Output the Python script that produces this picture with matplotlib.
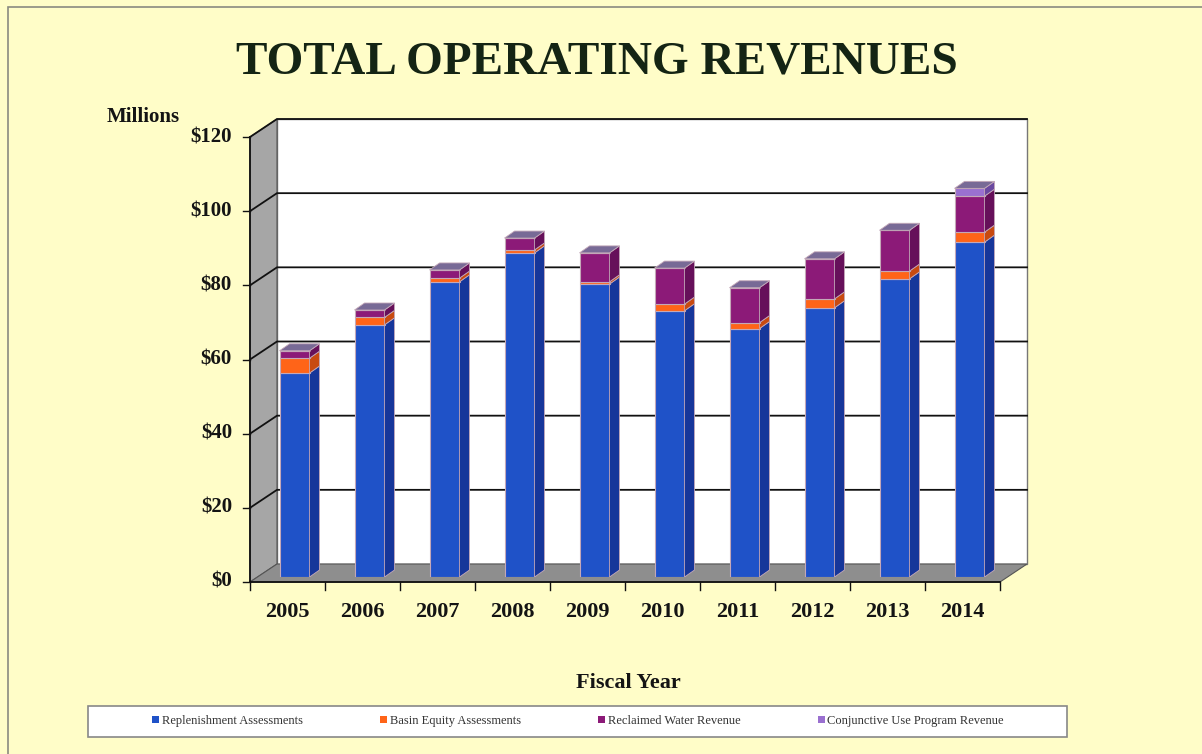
import numpy as np
import matplotlib.pyplot as plt
from matplotlib.patches import Polygon, Rectangle, Patch

# values, $ millions
years = ['2005', '2006', '2007', '2008', '2009', '2010', '2011', '2012', '2013', '2014']
replenishment = [55.0, 68.0, 79.6, 87.4, 79.0, 71.8, 67.0, 72.6, 80.4, 90.3]
basin_equity = [4.0, 2.0, 1.0, 0.8, 0.6, 1.8, 1.6, 2.4, 2.1, 2.7]
reclaimed = [2.0, 2.0, 2.2, 3.2, 7.8, 9.7, 9.4, 10.8, 11.0, 9.7]
conjunctive = [0.0, 0.0, 0.0, 0.0, 0.0, 0.0, 0.0, 0.0, 0.0, 2.1]
yticks = [0, 20, 40, 60, 80, 100, 120]
ytick_labels = ['$0', '$20', '$40', '$60', '$80', '$100', '$120']

series = [
    ('Replenishment Assessments', replenishment, '#1f52c8', '#16369a'),
    ('Basin Equity Assessments', basin_equity, '#ff6418', '#c84a10'),
    ('Reclaimed Water Revenue', reclaimed, '#8c1a78', '#66105a'),
    ('Conjunctive Use Program Revenue', conjunctive, '#9a70d0', '#6a48a0'),
]

W, H = 1202, 754
bg = '#fffdc8'
plt.rcParams['font.family'] = ['Liberation Serif', 'DejaVu Serif']

fig = plt.figure(figsize=(W / 100, H / 100), dpi=100, facecolor=bg)

# axes in the plane of the bars: x 0..10 -> px 257..1007, y 0..120 -> px 577..132
ax = fig.add_axes([257 / W, 1 - 577 / H, 750 / W, 445 / H])
ax.set_xlim(0, 10)
ax.set_ylim(0, 120)
ax.set_axis_off()

ux, uy = 75.0, 445 / 120.0
dxF, dyF = -7 / ux, -5 / uy      # front plane offset
dxB, dyB = 20 / ux, 13 / uy      # back wall offset
bdx, bdy = 10 / ux, 7 / uy       # bar depth

# back wall
ax.add_patch(Rectangle((dxB, dyB), 10, 120, facecolor='white', edgecolor='#777777',
                       lw=1, zorder=0, clip_on=False))
# left wall
ax.add_patch(Polygon([(dxF, dyF), (dxF, 120 + dyF), (dxB, 120 + dyB), (dxB, dyB)],
                     closed=True, facecolor='#a6a6a6', edgecolor='#555555', lw=0.8,
                     zorder=1, clip_on=False))
# floor
ax.add_patch(Polygon([(dxF, dyF), (10 + dxF, dyF), (10 + dxB, dyB), (dxB, dyB)],
                     closed=True, facecolor='#8e8e8e', edgecolor='#555555', lw=0.8,
                     zorder=1, clip_on=False))

# gridlines across the left wall and back wall
for v in yticks[1:]:
    ax.plot([dxF, dxB, 10 + dxB], [v + dyF, v + dyB, v + dyB], color='#111111',
            lw=1.3, zorder=2, clip_on=False)

# front axis lines and ticks
ax.plot([dxF, dxF], [dyF, 120 + dyF], color='#111111', lw=1.3, zorder=3, clip_on=False)
ax.plot([dxF, 10 + dxF], [dyF, dyF], color='#111111', lw=1.3, zorder=3, clip_on=False)
for v, lab in zip(yticks, ytick_labels):
    ax.plot([dxF - 7 / ux, dxF], [v + dyF, v + dyF], color='#111111', lw=1, clip_on=False)
    ax.text(dxF - 18 / ux, v + dyF, lab, ha='right', va='center', fontsize=15,
            fontweight='bold', color='#141414')
for k in range(11):
    ax.plot([k + dxF, k + dxF], [dyF, dyF - 8 / uy], color='#111111', lw=1, clip_on=False)

x = np.arange(len(years)) + 0.5
for i, y in enumerate(years):
    ax.text(x[i] + dxF, dyF - 30 / uy, y, ha='center', va='center', fontsize=16,
            fontweight='bold', color='#141414')

# stacked bars with side and top faces
bottom = np.zeros(len(years))
w = 0.4
for name, vals, front, side in series:
    vals = np.array(vals)
    ax.bar(x, vals, width=w, bottom=bottom, color=front, edgecolor='#c4a8b8',
           lw=0.8, zorder=5, label=name)
    for i in range(len(years)):
        if vals[i] <= 0:
            continue
        xr = x[i] + w / 2
        y0, y1 = bottom[i], bottom[i] + vals[i]
        ax.add_patch(Polygon([(xr, y0), (xr + bdx, y0 + bdy), (xr + bdx, y1 + bdy), (xr, y1)],
                             closed=True, facecolor=side, edgecolor='#c4a8b8', lw=0.6,
                             zorder=5))
    bottom = bottom + vals

for i in range(len(years)):
    xl, xr = x[i] - w / 2, x[i] + w / 2
    yt = bottom[i]
    ax.add_patch(Polygon([(xl, yt), (xr, yt), (xr + bdx, yt + bdy), (xl + bdx, yt + bdy)],
                         closed=True, facecolor='#786a96', edgecolor='#c4a8b8', lw=0.6, zorder=6))

# outer frame
fig.add_artist(Rectangle((8 / W, -0.1), 1.2, 1 - 7 / H + 0.1, transform=fig.transFigure,
                         fill=False, edgecolor='#8a8a80', lw=1.2))

fig.text(597 / W, 1 - 63 / H, 'TOTAL OPERATING REVENUES', ha='center', va='center',
         fontsize=34, fontweight='bold', color='#142414')
fig.text(107 / W, 1 - 117 / H, 'Millions', ha='left', va='center', fontsize=15,
         fontweight='bold', color='#141414')
fig.text(628 / W, 1 - 683 / H, 'Fiscal Year', ha='center', va='center', fontsize=16,
         fontweight='bold', color='#141414')

# legend box spanning the width, entries spread out inside it
fig.add_artist(Rectangle((88 / W, 1 - 737 / H), 979 / W, 31 / H, transform=fig.transFigure,
                         facecolor='white', edgecolor='#888888', lw=1.2))
handles = [Patch(facecolor=s[2], edgecolor='none') for s in series]
leg = fig.legend(handles, [s[0] for s in series], ncol=4, loc='center',
                 bbox_to_anchor=(578 / W, 1 - 721 / H), fontsize=9, frameon=False,
                 handlelength=0.55, handleheight=0.55, handletextpad=0.2,
                 columnspacing=6.2, borderaxespad=0, borderpad=0)
for t in leg.get_texts():
    t.set_color('#333333')

fig.savefig('out.png', dpi=100, facecolor=bg)
